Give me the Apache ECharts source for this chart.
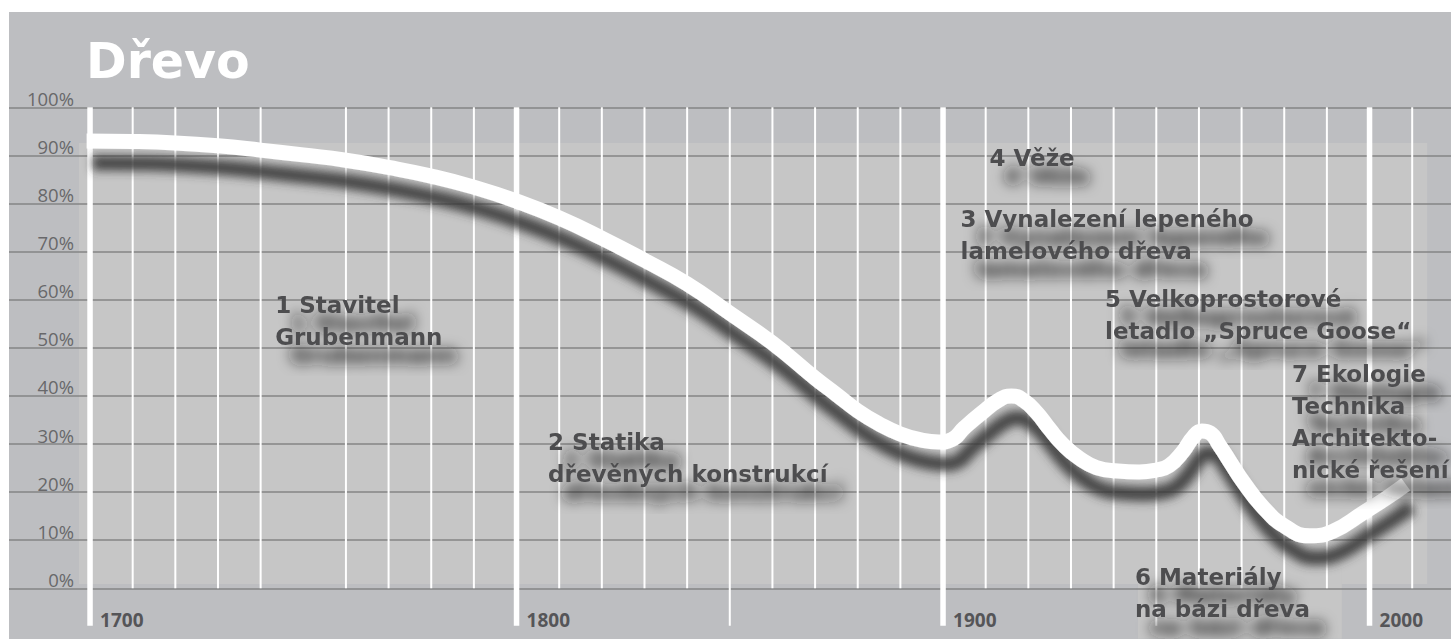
<!DOCTYPE html>
<html><head><meta charset="utf-8">
<script src="https://cdn.jsdelivr.net/npm/echarts@6/dist/echarts.min.js"></script>
<style>
html,body{margin:0;padding:0;background:#fff;width:1451px;height:639px;overflow:hidden}
#chart{position:absolute;left:9px;top:12px;width:1442px;height:627px;background:#bdbec1}
</style></head><body><div id="chart"></div>
<script>
// ---- data ----
const chartTitle = 'Dřevo';
const xTickLabels = [1700, 1800, 1900, 2000];
const curveYears  = [1699.2, 1710, 1720, 1730, 1740, 1750, 1760, 1770, 1780, 1790, 1800, 1810, 1820, 1830, 1840, 1850, 1860, 1870, 1875, 1880, 1885, 1890, 1895, 1899, 1902, 1905, 1909, 1913, 1916, 1919, 1922, 1925, 1928, 1932, 1936, 1941, 1946, 1950, 1953, 1956.3, 1958.7, 1960.7, 1962.6, 1964.9, 1967.3, 1970.4, 1975, 1980, 1986, 1991.5, 1998.5, 2004, 2008.5];
const curveValues = [93.0, 92.9, 92.6, 92.0, 91.1, 90.1, 89.0, 87.5, 85.7, 83.4, 80.5, 77.0, 72.8, 68.2, 63.3, 57.2, 51.0, 43.7, 40.3, 36.9, 34.2, 32.1, 30.8, 30.4, 30.9, 33.4, 36.4, 39.1, 40.0, 39.0, 36.5, 33.1, 30.0, 27.0, 25.1, 24.4, 24.2, 24.6, 25.5, 28.5, 31.5, 32.7, 32.3, 29.6, 26.3, 22.1, 16.9, 13.0, 10.9, 11.9, 15.7, 18.8, 21.6];
const majorYears = [1700, 1800, 1900, 2000];
const longMinorYears = [1850, 1950];
const minorYears = [1710, 1720, 1730, 1740, 1760, 1770, 1780, 1790, 1810, 1820, 1830, 1840, 1860, 1870, 1880, 1890, 1910, 1920, 1930, 1940, 1960, 1970, 1980, 1990, 2010];
const labelTexts = [
  '1 Stavitel\nGrubenmann',
  '2 Statika\ndřevěných konstrukcí',
  '3 Vynalezení lepeného\nlamelového dřeva',
  '4 Věže',
  '5 Velkoprostorové\nletadlo \u201ESpruce Goose\u201C',
  '6 Materiály\nna bázi dřeva',
  '7 Ekologie\nTechnika\nArchitekto-\nnické řešení'
];
const labelYears  = [1743.4, 1807.4, 1904.1, 1910.9, 1938.0, 1945.0, 1981.8];
const labelValues = [58.9, 30.4, 76.7, 89.4, 60.2, 2.4, 44.6];
const lightPanels = [
  [1697.4, 92.6, 2013.5, 0.9],
  [1945.7, 4.8, 1993.5, -10.5]
];

// ---- chart ----
const chart = echarts.init(document.getElementById('chart'), null, {renderer: 'svg'});
const lineRows = [];
minorYears.forEach(y => lineRows.push([y, 0]));
longMinorYears.forEach(y => lineRows.push([y, 1]));
majorYears.forEach(y => lineRows.push([y, 2]));

chart.setOption({
  animation: false,
  title: {
    text: chartTitle, left: 77, top: 25, padding: 0,
    textStyle: {color: '#ffffff', fontFamily: 'DejaVu Sans', fontWeight: 'bold', fontSize: 49, lineHeight: 49}
  },
  grid: {left: 0, right: 0, top: 95.3, bottom: 50.7, containLabel: false},
  xAxis: {
    type: 'value', min: 1681, max: 2019.1,
    splitLine: {show: false}, axisLine: {show: false}, axisTick: {show: false},
    axisLabel: {
      customValues: xTickLabels, formatter: v => String(v),
      align: 'left', padding: [0, 0, 0, 10], margin: 22,
      verticalAlign: 'top', lineHeight: 19,
      color: '#555558', fontFamily: 'Open Sans', fontWeight: 'bold', fontSize: 19
    }
  },
  yAxis: {
    type: 'value', min: 0, max: 100, interval: 10, z: 2,
    axisLine: {show: false}, axisTick: {show: false},
    splitLine: {show: true, lineStyle: {color: '#858585', width: 1.5}},
    axisLabel: {
      inside: true, margin: 65, align: 'right', verticalAlign: 'bottom', lineHeight: 18,
      formatter: '{value}%', color: '#68686a', fontFamily: 'Open Sans', fontSize: 18.5
    }
  },
  series: [
    {
      type: 'custom', z: 1, silent: true, clip: false,
      data: lightPanels, encode: {x: [0, 2], y: [1, 3]},
      renderItem: function (params, api) {
        const a = api.coord([api.value(0), api.value(1)]);
        const b = api.coord([api.value(2), api.value(3)]);
        return {type: 'rect', shape: {x: a[0], y: a[1], width: b[0] - a[0], height: b[1] - a[1]},
          style: {fill: '#c6c6c6'}};
      }
    },
    {
      type: 'custom', z: 3, silent: true, clip: false,
      data: lineRows, encode: {x: 0, y: 1},
      renderItem: function (params, api) {
        const yr = api.value(0), kind = api.value(1);
        const top = api.coord([yr, 100]);
        const bot = api.coord([yr, kind === 0 ? 0 : -7.8]);
        return {type: 'line', shape: {x1: top[0], y1: top[1], x2: bot[0], y2: bot[1]},
          style: {stroke: '#ffffff', lineWidth: kind === 2 ? 5.5 : 2}};
      }
    },
    {
      type: 'line', z: 4, silent: true, smooth: true, symbol: 'none',
      data: curveYears.map((y, i) => [y, curveValues[i]]),
      lineStyle: {color: '#ffffff', width: 15, cap: 'butt',
        shadowColor: 'rgba(55,55,55,0.9)', shadowBlur: 10, shadowOffsetX: 6, shadowOffsetY: 22}
    },
    {
      type: 'custom', z: 5, silent: true, clip: false,
      data: labelYears.map((y, i) => [y, labelValues[i]]), encode: {x: 0, y: 1},
      renderItem: function (params, api) {
        const p = api.coord([api.value(0), api.value(1)]);
        return {type: 'text', x: p[0], y: p[1] - 16,
          style: {text: labelTexts[params.dataIndex], fill: '#4d4d4f',
            fontFamily: 'DejaVu Sans', fontWeight: 'bold', fontSize: 23, lineHeight: 32,
            align: 'left', verticalAlign: 'top',
            textShadowColor: 'rgba(30,30,30,1)', textShadowBlur: 14,
            textShadowOffsetX: 15, textShadowOffsetY: 18}};
      }
    }
  ]
});
</script></body></html>
